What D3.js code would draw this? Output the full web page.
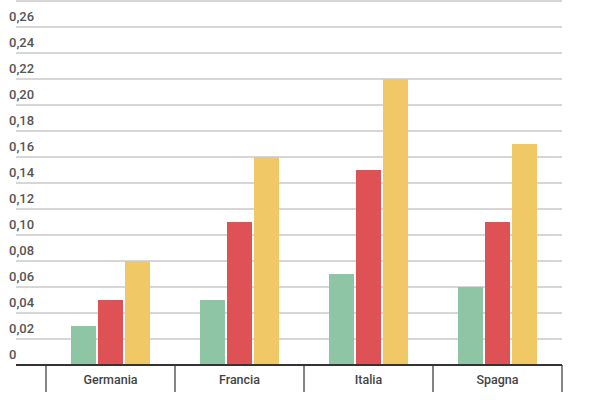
<!DOCTYPE html>
<html><head><meta charset="utf-8">
<script src="https://cdn.jsdelivr.net/npm/d3@7"></script>
<style>body{margin:0;background:#fff}</style></head>
<body>
<script>
const categories = ["Germania", "Francia", "Italia", "Spagna"]
const serieA = [0.03, 0.05, 0.07, 0.06]
const serieB = [0.05, 0.11, 0.15, 0.11]
const serieC = [0.08, 0.16, 0.22, 0.17]
const colors = ["#8dc5a5", "#de5154", "#f0c865"]
const yTicks = d3.range(0, 0.281, 0.02)

const svg = d3.select("body").append("svg").attr("width", 600).attr("height", 400)
const y = d3.scaleLinear().domain([0, 0.28]).range([365, 1])
const x = d3.scaleBand().domain(categories).range([46, 562])
const fmt = d => d === 0 ? "0" : d3.format(".2f")(d).replace(".", ",")

// gridlines + labels
yTicks.forEach(t => {
    svg.append("line").attr("x1", 16).attr("x2", 562)
        .attr("y1", y(t)).attr("y2", y(t))
        .attr("stroke", t === 0 ? "#333" : "#c8c8c8").attr("stroke-width", t === 0 ? 2 : 1.5)
    if (t < 0.27) svg.append("text").attr("x", 9).attr("y", y(t) - 6)
        .attr("font-family", "Roboto").attr("font-size", 13).attr("font-weight", 500)
        .attr("fill", "#555").text(fmt(t))
})

const series = [serieA, serieB, serieC]
const bw = 25, gap = 2
categories.forEach((c, i) => {
    const cx = x(c) + x.bandwidth() / 2
    series.forEach((s, j) => {
        const bx = cx + (j - 1) * (bw + gap) - bw / 2
        svg.append("rect").attr("x", bx).attr("width", bw)
            .attr("y", y(s[i])).attr("height", y(0) - y(s[i]) - 1)
            .attr("fill", colors[j])
    })
    svg.append("text").attr("x", cx).attr("y", 384).attr("text-anchor", "middle")
        .attr("font-family", "Roboto").attr("font-size", 12.5).attr("font-weight", 500)
        .attr("fill", "#444").text(c)
})

// category separators
x.domain().concat([null]).forEach((c, i) => {
    const xx = c ? x(c) : x.range()[1]
    svg.append("line").attr("x1", xx).attr("x2", xx).attr("y1", 365).attr("y2", 392)
        .attr("stroke", "#333").attr("stroke-width", 1.2)
})
svg.append("line").attr("x1", 16).attr("x2", 562).attr("y1", y(0)).attr("y2", y(0))
    .attr("stroke", "#333").attr("stroke-width", 2)
</script>
</body></html>
